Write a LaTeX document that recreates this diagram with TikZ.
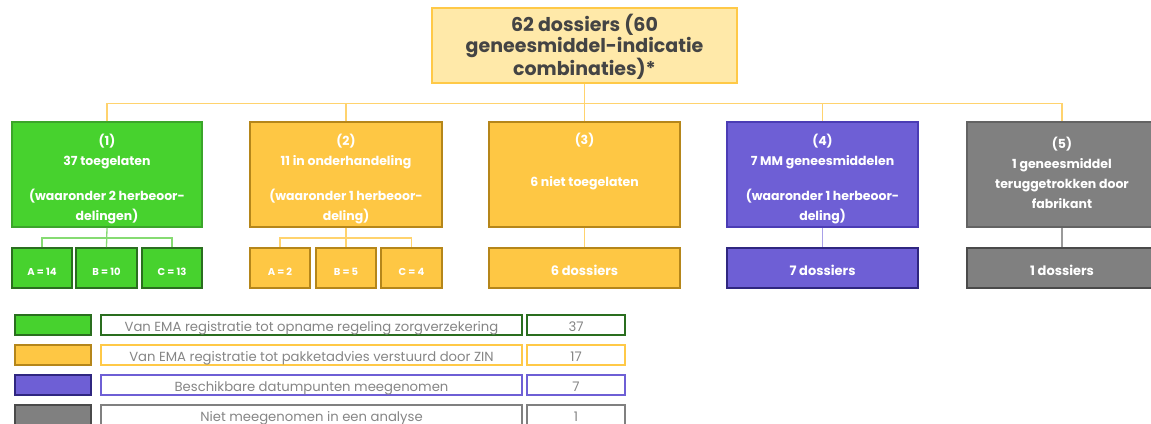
\documentclass[tikz,border=0pt]{standalone}
\usepackage{fontspec}
\setmainfont{Poppins}
\definecolor{gfill}{HTML}{47D22E}
\definecolor{gbord}{HTML}{3BA52A}
\definecolor{gdark}{HTML}{2A6E1F}
\definecolor{gconn}{HTML}{86DB72}
\definecolor{yfill}{HTML}{FEC744}
\definecolor{ybord}{HTML}{B5861A}
\definecolor{yconn}{HTML}{FFD36E}
\definecolor{tfill}{HTML}{FFE9A9}
\definecolor{tbord}{HTML}{FFC947}
\definecolor{pfill}{HTML}{6E5FD5}
\definecolor{pbord}{HTML}{4B3CB5}
\definecolor{pdark}{HTML}{2F2680}
\definecolor{pconn}{HTML}{A8A0E8}
\definecolor{kfill}{HTML}{808080}
\definecolor{kbord}{HTML}{636363}
\definecolor{kdark}{HTML}{4A4A4A}
\definecolor{kconn}{HTML}{9A9A9A}
\definecolor{ttext}{HTML}{444444}
\definecolor{ltext}{HTML}{858585}
\tikzset{
  box/.style={draw, line width=1.6pt, inner sep=0pt, minimum height=105pt},
  btext/.style={inner sep=0pt, align=center, text=white,
    font=\fontsize{12.5}{20}\selectfont\bfseries},
  subbox/.style={draw, line width=1.6pt, inner sep=0pt, minimum height=40pt, text=white,
    text height=16pt, text depth=2pt},
  small/.style={font=\fontsize{10}{12}\selectfont\bfseries},
  mid/.style={font=\fontsize{13}{15}\selectfont\bfseries},
  conn/.style={line width=1.3pt},
  leg/.style={draw, line width=1.6pt, inner sep=0pt, minimum height=20pt, text=ltext,
    font=\fontsize{13.2}{15}\selectfont, text height=15pt, text depth=2.5pt},
}
\begin{document}
\begin{tikzpicture}[x=1pt,y=-1pt]
\useasboundingbox (0,0) rectangle (1151,423);
\clip (0,0) rectangle (1151,423);
% top
\node[draw=tbord, fill=tfill, line width=1.6pt, minimum width=305pt, minimum height=75pt,
  inner sep=0pt, align=center, text=ttext, font=\fontsize{19}{21}\selectfont\bfseries]
  (top) at (584.5,45.5) {};
\node[inner sep=0pt, align=center, text=ttext, font=\fontsize{19}{21}\selectfont\bfseries,
  yshift=-1.5pt] (toptext) at (top) {62 dossiers (60\\geneesmiddel-indicatie\\combinaties)*};
% level 1
\node[box, fill=gfill, draw=gbord, minimum width=190pt] (b1) at (107,174.5) {};
\node[box, fill=yfill, draw=ybord, minimum width=192pt] (b2) at (346,174.5) {};
\node[box, fill=yfill, draw=ybord, minimum width=191pt] (b3) at (584.5,174.5) {};
\node[box, fill=pfill, draw=pbord, minimum width=191pt] (b4) at (822.5,174.5) {};
\node[box, fill=kfill, draw=kbord, minimum width=190pt] (b5) at (1062,174.5) {};
\node[btext, yshift=-5pt] (t1) at (b1) {(1)\\37 toegelaten\\[15pt](waaronder 2 herbeoor-\\delingen)};
\node[btext, yshift=-5pt] (t2) at (b2) {(2)\\11 in onderhandeling\\[15pt](waaronder 1 herbeoor-\\deling)};
\node[btext, yshift=12.5pt] (t3) at (b3) {(3)\\[22pt]6 niet toegelaten};
\node[btext, yshift=-5pt] (t4) at (b4) {(4)\\7 MM geneesmiddelen\\[15pt](waaronder 1 herbeoor-\\deling)};
\node[btext, yshift=2pt] (t5) at (b5) {(5)\\1 geneesmiddel\\teruggetrokken door\\fabrikant};
% sub boxes
\node[subbox, small, fill=gfill, draw=gdark, minimum width=60pt] (b1a) at (42,268) {A = 14};
\node[subbox, small, fill=gfill, draw=gdark, minimum width=61pt] (b1b) at (106.5,268) {B = 10};
\node[subbox, small, fill=gfill, draw=gdark, minimum width=60pt] (b1c) at (172,268) {C = 13};
\node[subbox, small, fill=yfill, draw=ybord, minimum width=60pt] (b2a) at (280,268) {A = 2};
\node[subbox, small, fill=yfill, draw=ybord, minimum width=60pt] (b2b) at (346,268) {B = 5};
\node[subbox, small, fill=yfill, draw=ybord, minimum width=61pt] (b2c) at (411.5,268) {C = 4};
\node[subbox, mid, fill=yfill, draw=ybord, minimum width=191pt] (b3a) at (584.5,268) {6 dossiers};
\node[subbox, mid, fill=pfill, draw=pdark, minimum width=191pt] (b4a) at (822.5,268) {7 dossiers};
\node[subbox, mid, fill=kfill, draw=kdark, minimum width=190pt] (b5a) at (1062,268) {1 dossiers};
% connectors
\coordinate (bus) at (0,103.5);
\draw[conn, yconn] (top.south) -- (top.south |- bus);
\draw[conn, yconn] (b1.north) -- (b1.north |- bus) -- (b5.north |- bus) -- (b5.north);
\draw[conn, yconn] (b2.north) -- (b2.north |- bus);
\draw[conn, yconn] (b3.north) -- (b3.north |- bus);
\draw[conn, yconn] (b4.north) -- (b4.north |- bus);
\coordinate (sbus) at (0,238);
\draw[conn, gconn] (b1.south) -- (b1b.north);
\draw[conn, gconn] (b1a.north) -- (b1a.north |- sbus) -- (b1c.north |- sbus) -- (b1c.north);
\draw[conn, yconn] (b2.south) -- (b2b.north);
\draw[conn, yconn] (b2a.north) -- (b2a.north |- sbus) -- (b2c.north |- sbus) -- (b2c.north);
\draw[conn, yconn] (b3.south) -- (b3a.north);
\draw[conn, pconn] (b4.south) -- (b4a.north);
\draw[conn, kconn] (b5.south) -- (b5a.north);
% legend
\foreach \r/\y/\sf/\sb/\lb/\t/\n in {
  1/325/gfill/gdark/gdark/Van EMA registratie tot opname regeling zorgverzekering/37,
  2/355/yfill/ybord/tbord/Van EMA registratie tot pakketadvies verstuurd door ZIN/17,
  3/385/pfill/pdark/pfill/Beschikbare datumpunten meegenomen/7,
  4/415/kfill/kdark/kfill/Niet meegenomen in een analyse/1}{
  \node[leg, fill=\sf, draw=\sb, minimum width=76pt] (sw\r) at (53,\y) {};
  \node[leg, draw=\lb, minimum width=421pt] (lt\r) at (311.5,\y) {\t};
  \node[leg, draw=\lb, minimum width=98pt] (ln\r) at (576,\y) {\n};
}
\end{tikzpicture}
\end{document}
